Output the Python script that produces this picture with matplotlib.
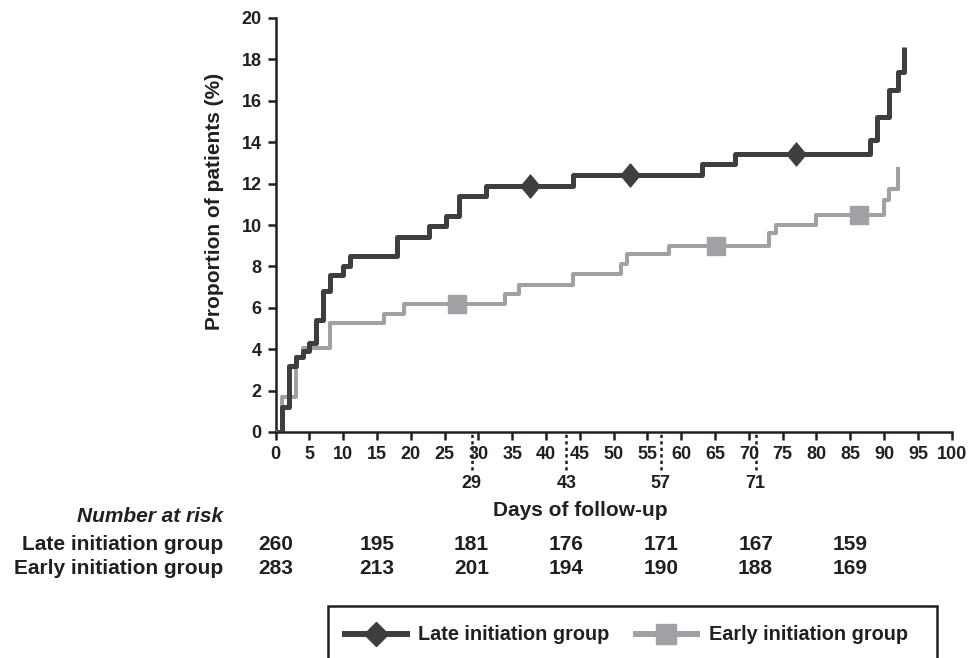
import matplotlib
matplotlib.use('Agg')
import matplotlib.pyplot as plt
from matplotlib.lines import Line2D
from matplotlib.patches import Rectangle
from matplotlib.path import Path
from matplotlib.transforms import blended_transform_factory

plt.rcParams['font.family'] = ['Liberation Sans', 'DejaVu Sans']
plt.rcParams['font.weight'] = 'bold'

# step curves: day of each step and the cumulative proportion (%) after it
late_days = [0, 1, 2, 3, 4, 5, 6, 7, 8, 10, 11, 18, 22.7, 25.2, 27.1, 31.1,
             44, 63.1, 68, 87.9, 88.9, 90.7, 92, 92.9]
late_pct = [0, 1.2, 3.2, 3.6, 3.9, 4.3, 5.4, 6.8, 7.6, 8.0, 8.5, 9.4, 9.95, 10.45, 11.4, 11.9,
            12.4, 12.95, 13.45, 14.1, 15.2, 16.5, 17.4, 18.6]

early_days = [0, 1, 3, 4, 8, 16, 19, 34, 36, 44, 51.1, 52, 58.2, 73, 74, 79.9,
              90, 90.7, 92]
early_pct = [0, 1.7, 3.6, 4.05, 5.25, 5.7, 6.2, 6.65, 7.1, 7.65, 8.1, 8.6, 9.0, 9.6, 10.0, 10.5,
             11.2, 11.75, 12.8]

late_marker_days = [37.6, 52.4, 77.0]
early_marker_days = [26.8, 65.1, 86.3]

extra_ticks = [29, 43, 57, 71]

risk_days = [0, 15, 29, 43, 57, 71, 85]
late_risk = [260, 195, 181, 176, 171, 167, 159]
early_risk = [283, 213, 201, 194, 190, 188, 169]

DARK = '#3e3e41'
GREY = '#a1a1a5'
INK = '#231f20'

# slightly tall diamond, like the one in the original
diamond = Path([(0, 1), (0.83, 0), (0, -1), (-0.83, 0), (0, 1)],
               [Path.MOVETO, Path.LINETO, Path.LINETO, Path.LINETO, Path.CLOSEPOLY])


def step_value(days, pct, d):
    v = pct[0]
    for x, y in zip(days, pct):
        if x <= d:
            v = y
    return v


fig = plt.figure(figsize=(9.71, 6.58), dpi=100)
W, H = 971, 658
x0, x1, y0, y1 = 275.5, 951.7, 432, 18
ax = fig.add_axes([x0 / W, 1 - y0 / H, (x1 - x0) / W, (y0 - y1) / H])

ax.plot(early_days, early_pct, drawstyle='steps-post', color=GREY, lw=2.9,
        solid_capstyle='butt', zorder=3)
ax.plot(late_days, late_pct, drawstyle='steps-post', color=DARK, lw=3.6,
        solid_capstyle='butt', zorder=4)
ax.plot(early_marker_days, [step_value(early_days, early_pct, d) for d in early_marker_days],
        ls='none', marker='s', ms=13, color=GREY, zorder=5)
ax.plot(late_marker_days, [step_value(late_days, late_pct, d) for d in late_marker_days],
        ls='none', marker=diamond, ms=16.5, color=DARK, zorder=5)

ax.set_xlim(0, 100)
ax.set_ylim(0, 20)
ax.set_xticks(range(0, 101, 5))
ax.set_yticks(range(0, 21, 2))
for s in ['top', 'right']:
    ax.spines[s].set_visible(False)
for s in ['left', 'bottom']:
    ax.spines[s].set_linewidth(1.8)
    ax.spines[s].set_color(INK)
ax.tick_params(width=1.8, length=6, color=INK, labelcolor=INK, labelsize=13, pad=4)
for lab in ax.get_xticklabels() + ax.get_yticklabels():
    lab.set_fontweight('bold')
ax.set_ylabel('Proportion of patients (%)', fontsize=15, fontweight='bold', color=INK)
ax.yaxis.set_label_coords(-51 / 676, 0.556)

# dotted extra ticks at 2-week intervals
xt = ax.get_xaxis_transform()
ax.vlines(extra_ticks, -38 / 414, 0, transform=xt, colors=INK, lw=1.8,
          linestyles=(0, (1.3, 1.3)), clip_on=False)
for d in extra_ticks:
    ax.text(d, -51 / 414, str(d), transform=xt, ha='center', va='center',
            fontsize=13, fontweight='bold', color=INK)

fig.text(493 / W, 1 - 510 / H, 'Days of follow-up', ha='left', va='center',
         fontsize=15, fontweight='bold', color=INK)

# number at risk table
fig.text(223 / W, 1 - 517 / H, 'Number at risk', ha='right', va='center', fontsize=15,
         fontweight='bold', style='italic', color=INK)
fig.text(223 / W, 1 - 545 / H, 'Late initiation group', ha='right', va='center', fontsize=15,
         fontweight='bold', color=INK)
fig.text(223 / W, 1 - 568 / H, 'Early initiation group', ha='right', va='center', fontsize=15,
         fontweight='bold', color=INK)
bt = blended_transform_factory(ax.transData, fig.transFigure)
for d, a, b in zip(risk_days, late_risk, early_risk):
    fig.text(d, 1 - 545 / H, str(a), transform=bt, ha='center', va='center', fontsize=15,
             fontweight='bold', color=INK)
    fig.text(d, 1 - 568 / H, str(b), transform=bt, ha='center', va='center', fontsize=15,
             fontweight='bold', color=INK)

# legend box runs past the bottom edge of the figure
fig.patches.append(Rectangle((328 / W, -20 / H), (937 - 328) / W, (20 + 658 - 606) / H,
                             transform=fig.transFigure, fill=False, edgecolor=INK,
                             lw=1.8, clip_on=False))
handles = [
    Line2D([], [], color=DARK, lw=4.3, marker='D', ms=12.5),
    Line2D([], [], color=GREY, lw=4.3, marker='s', ms=14),
]
leg = fig.legend(handles, ['Late initiation group', 'Early initiation group'],
                 loc='center left', bbox_to_anchor=(337 / W, 1 - 635 / H), ncol=2,
                 frameon=False, handlelength=3.1, handletextpad=0.6, columnspacing=1.3,
                 borderpad=0.4, borderaxespad=0,
                 prop={'weight': 'bold', 'size': 14.3})
for t in leg.get_texts():
    t.set_color(INK)

fig.savefig('out.png', dpi=100)
